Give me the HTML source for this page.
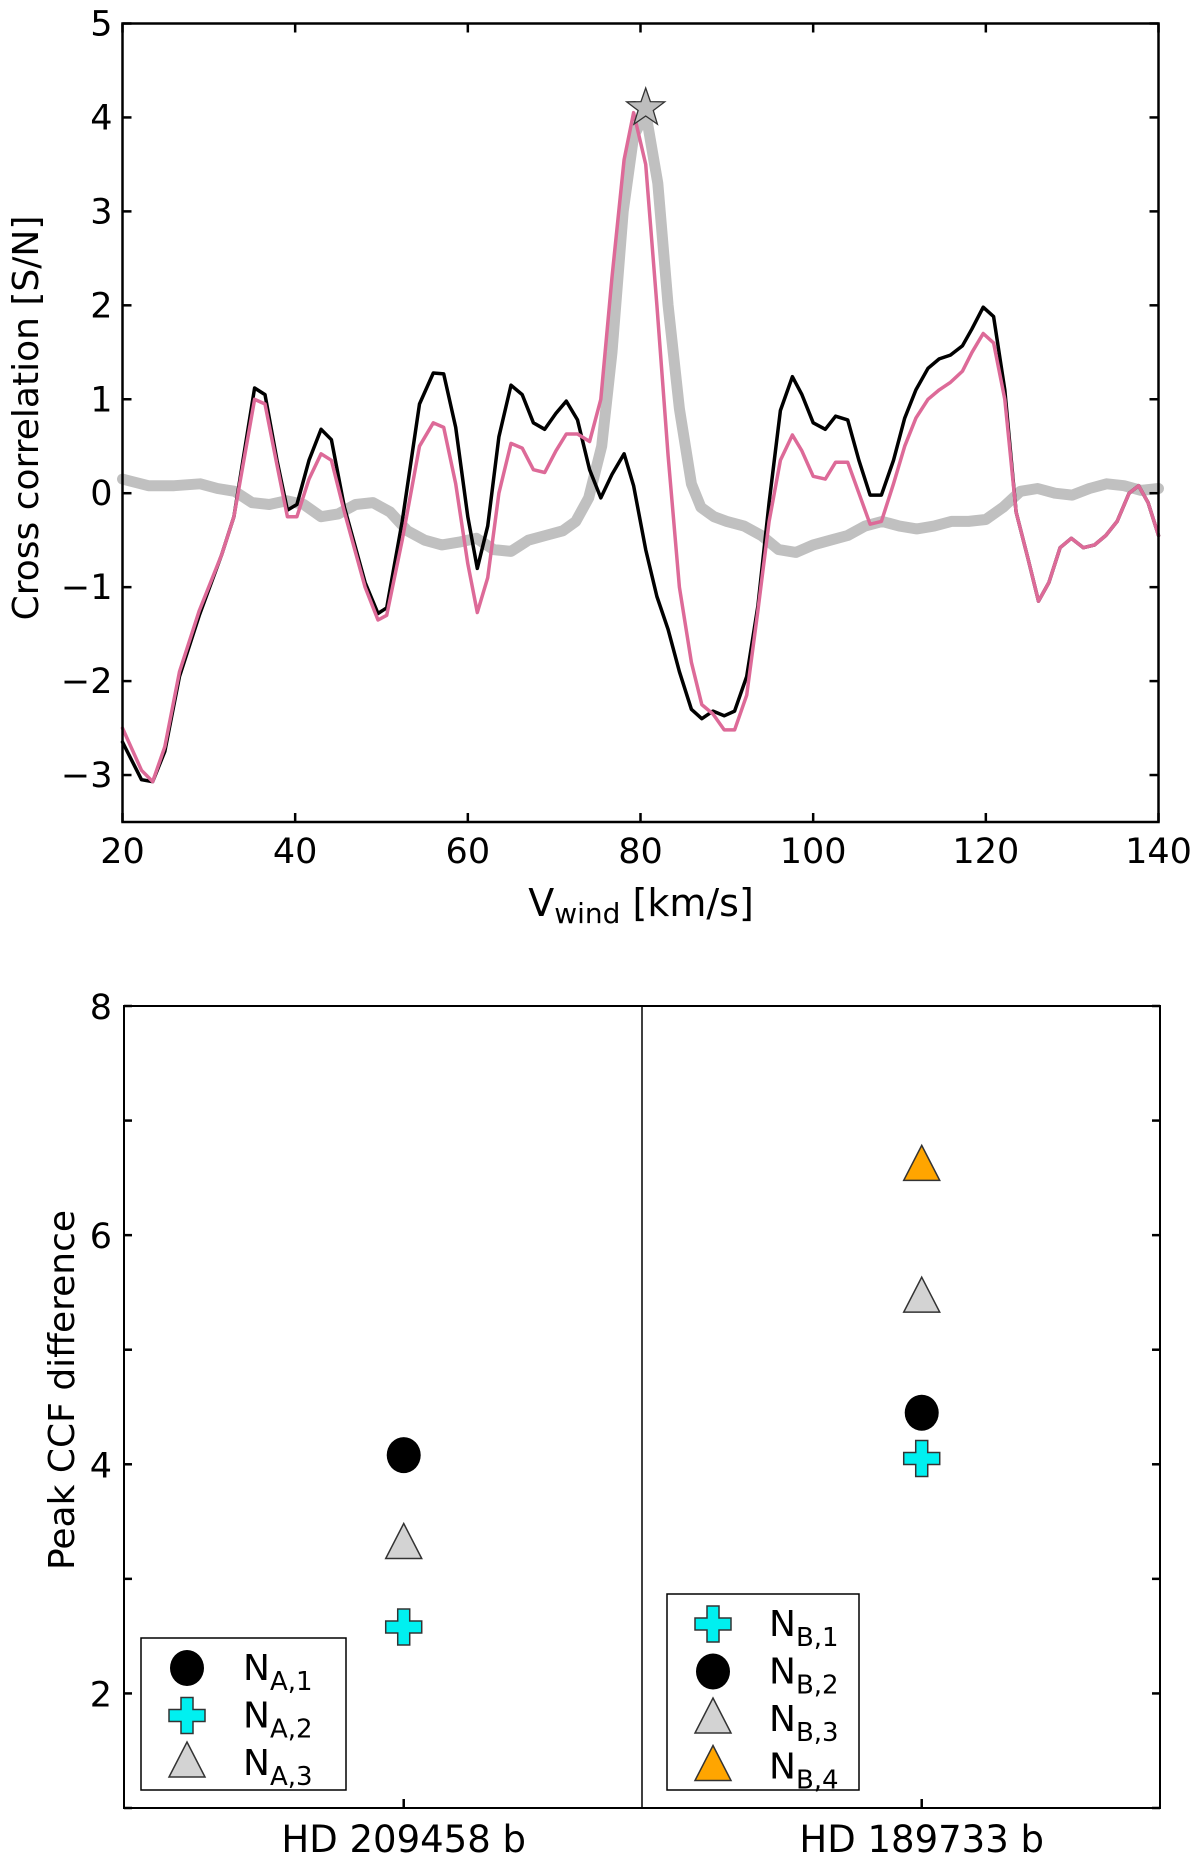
<!DOCTYPE html>
<html><head><meta charset="utf-8"><style>
body{margin:0;background:#fff;}
svg text{font-family:"DejaVu Sans","Liberation Sans",sans-serif;fill:#000;}
</style></head><body>
<svg id="fig" width="1200" height="1863" viewBox="0 0 1200 1863" xmlns="http://www.w3.org/2000/svg">
<g id="topPanel"></g>
<g id="botPanel"></g>
</svg>
<script>
// ---- Top panel data ----
const vx = [20,22.2,23.5,24.9,26.6,28.9,31.5,32.9,35.3,36.5,37.9,39.1,40.2,41.6,43,44.2,45.7,48.1,49.6,50.6,52.4,54.4,56,57.2,58.6,60,61.1,62.3,63.6,65,66.3,67.6,68.9,70.2,71.4,72.7,74.1,75.4,76.7,78.1,79.2,80.6,81.9,83.2,84.5,85.9,87.1,88.4,89.7,90.9,92.3,93.6,94.9,96.2,97.6,98.7,100,101.4,102.6,104,105.3,106.6,107.9,109.3,110.6,111.9,113.3,114.6,115.9,117.3,118.4,119.7,120.9,122.2,123.5,124.9,126.1,127.3,128.6,129.9,131.3,132.6,133.9,135.2,136.6,137.7,138.8,140];
const blackVals = [-2.65,-3.05,-3.07,-2.75,-1.95,-1.3,-0.65,-0.25,1.12,1.05,0.35,-0.18,-0.12,0.35,0.68,0.57,-0.15,-0.95,-1.28,-1.22,-0.3,0.95,1.28,1.27,0.7,-0.25,-0.8,-0.35,0.6,1.15,1.05,0.75,0.68,0.85,0.98,0.78,0.25,-0.05,0.2,0.42,0.08,-0.6,-1.1,-1.45,-1.9,-2.3,-2.4,-2.32,-2.37,-2.32,-1.95,-1.2,-0.1,0.88,1.24,1.05,0.75,0.68,0.82,0.78,0.35,-0.02,-0.02,0.35,0.8,1.1,1.33,1.43,1.47,1.57,1.75,1.98,1.88,1.1,-0.2,-0.7,-1.15,-0.95,-0.58,-0.48,-0.58,-0.55,-0.45,-0.3,0.0,0.08,-0.1,-0.45];
const pinkVals = [-2.5,-2.95,-3.07,-2.7,-1.9,-1.25,-0.65,-0.25,1.0,0.95,0.3,-0.25,-0.25,0.15,0.42,0.35,-0.2,-1.0,-1.35,-1.3,-0.5,0.5,0.75,0.7,0.1,-0.75,-1.27,-0.9,0.0,0.53,0.48,0.25,0.22,0.45,0.63,0.63,0.55,1.0,2.3,3.55,4.05,3.5,2.0,0.4,-1.0,-1.8,-2.25,-2.35,-2.52,-2.52,-2.15,-1.25,-0.3,0.35,0.62,0.45,0.18,0.15,0.33,0.33,0.0,-0.33,-0.3,0.1,0.5,0.8,1.0,1.1,1.18,1.3,1.5,1.7,1.6,1.0,-0.2,-0.7,-1.15,-0.95,-0.58,-0.48,-0.58,-0.55,-0.45,-0.3,0.0,0.08,-0.1,-0.45];
const grayX = [20,23,26,29,31,33,35,37,39,41,43,45,47,49,51,53,55,57,59,61,63,65,67,69,71,72.5,74,75.5,76.7,78,79.2,80.6,82,83.2,84.5,85.9,87,88.5,90,92,94,96,98,100,102,104,106,108,110,112,114,116,118,120,122,124,126,128,130,132,134,136,138,140];
const grayVals = [0.15,0.08,0.08,0.1,0.05,0.02,-0.1,-0.12,-0.08,-0.12,-0.25,-0.22,-0.12,-0.1,-0.2,-0.4,-0.5,-0.55,-0.52,-0.48,-0.6,-0.62,-0.5,-0.45,-0.4,-0.3,-0.05,0.5,1.5,3.0,3.8,4.05,3.3,2.0,0.9,0.1,-0.15,-0.25,-0.3,-0.35,-0.45,-0.6,-0.63,-0.55,-0.5,-0.45,-0.35,-0.3,-0.35,-0.38,-0.35,-0.3,-0.3,-0.28,-0.15,0.02,0.05,0.0,-0.02,0.05,0.1,0.08,0.03,0.05];
const starPoint = [80.6, 4.1];
const topXTicks = [20,40,60,80,100,120,140];
const topYTicks = [-3,-2,-1,0,1,2,3,4,5];
// ---- Bottom panel data ----
const categories = ["HD 209458 b","HD 189733 b"];
const seriesA = [4.08, 2.58, 3.3];
const seriesB = [4.05, 4.45, 5.45, 6.6];
const botYTicks = [2,4,6,8];

const NS="http://www.w3.org/2000/svg";
function mk(tag,attrs,parent){const e=document.createElementNS(NS,tag);for(const k in attrs)e.setAttribute(k,attrs[k]);parent.appendChild(e);return e;}
function sub(textEl,main,subTxt,subSize,dy,rest){
  textEl.appendChild(document.createTextNode(main));
  const s=document.createElementNS(NS,'tspan');s.setAttribute('font-size',subSize);s.setAttribute('dy',dy);s.textContent=subTxt;textEl.appendChild(s);
  if(rest){const r=document.createElementNS(NS,'tspan');r.setAttribute('dy',-dy);r.textContent=rest;textEl.appendChild(r);}
}

// Top axes
const T={l:122.5,r:1158.5,t:23.5,b:822};
const tx=v=>T.l+(v-20)/120*(T.r-T.l);
const ty=v=>T.t+(5-v)/8.5*(T.b-T.t);
const topG=document.getElementById('topPanel');
function line(xs,ys,color,w,name){
  let d=xs.map((x,i)=>(i?'L':'M')+tx(x).toFixed(1)+','+ty(ys[i]).toFixed(1)).join('');
  const p=mk('path',{d:d,fill:'none',stroke:color,'stroke-width':w,'stroke-linejoin':'round','stroke-linecap':'round'},topG);
  
  
}
line(grayX,grayVals,'#c0c0c0',11,'model-ccf-line');
line(vx,blackVals,'#000',3.5,'ccf-black-line');
line(vx,pinkVals,'#dd6a98',3.5,'ccf-pink-line');
(function(){
  const cx=tx(starPoint[0]),cy=ty(starPoint[1]);let pts=[];
  for(let i=0;i<10;i++){const r=i%2?8:20;const a=-Math.PI/2+i*Math.PI/5;pts.push((cx+r*Math.cos(a)).toFixed(1)+','+(cy+r*Math.sin(a)).toFixed(1));}
  const s=mk('polygon',{points:pts.join(' '),fill:'#bdbdbd',stroke:'#333','stroke-width':1.3},topG);
  
  
})();
const tf=mk('rect',{x:T.l,y:T.t,width:T.r-T.l,height:T.b-T.t,fill:'none',stroke:'#000','stroke-width':2.5},topG);


topXTicks.forEach(v=>{
  mk('line',{x1:tx(v),x2:tx(v),y1:T.b,y2:T.b-9,stroke:'#000','stroke-width':2.5},topG);
  mk('line',{x1:tx(v),x2:tx(v),y1:T.t,y2:T.t+9,stroke:'#000','stroke-width':2.5},topG);
  const t=mk('text',{x:tx(v),y:T.b+41,'text-anchor':'middle','font-size':35},topG);t.textContent=v;
  
  
});
topYTicks.forEach(v=>{
  mk('line',{x1:T.l,x2:T.l+9,y1:ty(v),y2:ty(v),stroke:'#000','stroke-width':2.5},topG);
  mk('line',{x1:T.r,x2:T.r-9,y1:ty(v),y2:ty(v),stroke:'#000','stroke-width':2.5},topG);
  const t=mk('text',{x:T.l-10,y:ty(v)+12,'text-anchor':'end','font-size':35},topG);t.textContent=(v<0?'\u2212'+(-v):v);
  
  
});
{
 const yl=mk('text',{x:0,y:0,'text-anchor':'middle','font-size':36,transform:'translate(38,418) rotate(-90)'},topG);yl.textContent='Cross correlation [S/N]';
 
 
 const xl=mk('text',{x:641,y:916,'text-anchor':'middle','font-size':38},topG);
 sub(xl,'V','wind',28,7,' [km/s]');
 
 
}

// Bottom axes
const B={l:124,r:1160,t:1006,b:1808};
const bx=v=>B.l+(v+0.54)/2*(B.r-B.l);
const by=v=>B.t+(8-v)/7*(B.b-B.t);
const botG=document.getElementById('botPanel');
const bf=mk('rect',{x:B.l,y:B.t,width:B.r-B.l,height:B.b-B.t,fill:'none',stroke:'#000','stroke-width':2},botG);


const dv=mk('line',{x1:bx(0.46),x2:bx(0.46),y1:B.t,y2:B.b,stroke:'#000','stroke-width':1.5},botG);


for(let v=1;v<=8;v++){
  mk('line',{x1:B.l,x2:B.l+8,y1:by(v),y2:by(v),stroke:'#000','stroke-width':2.5},botG);
  mk('line',{x1:B.r,x2:B.r-8,y1:by(v),y2:by(v),stroke:'#000','stroke-width':2.5},botG);
}
botYTicks.forEach(v=>{
  const t=mk('text',{x:B.l-12,y:by(v)+13,'text-anchor':'end','font-size':35},botG);t.textContent=v;
  
  
});
categories.forEach((c,i)=>{
  mk('line',{x1:bx(i),x2:bx(i),y1:B.b,y2:B.b-9,stroke:'#000','stroke-width':2.5},botG);
  const t=mk('text',{x:bx(i),y:B.b+44,'text-anchor':'middle','font-size':37},botG);t.textContent=c;
  
  
});
{
 const yl=mk('text',{x:0,y:0,'text-anchor':'middle','font-size':36,transform:'translate(74,1390) rotate(-90)'},botG);yl.textContent='Peak CCF difference';
 
 
}
function marker(kind,cx,cy,parent){
  let e;
  if(kind==='circle') e=mk('ellipse',{cx:cx,cy:cy,rx:17,ry:18,fill:'#000'},parent);
  else if(kind==='cross'){
    const a=6,b=18;
    const p=[[-a,-b],[a,-b],[a,-a],[b,-a],[b,a],[a,a],[a,b],[-a,b],[-a,a],[-b,a],[-b,-a],[-a,-a]].map(q=>(cx+q[0])+','+(cy+q[1])).join(' ');
    e=mk('polygon',{points:p,fill:'#00f0f0',stroke:'#333','stroke-width':1.5},parent);
  } else {
    const col=kind==='tri-orange'?'#ffa500':'#d3d3d3';
    e=mk('polygon',{points:`${cx},${cy-21} ${cx+18},${cy+14} ${cx-18},${cy+14}`,fill:col,stroke:'#333','stroke-width':1.5},parent);
  }
  return e;
}
const kindsA=['circle','cross','tri-gray'];
const kindsB=['cross','circle','tri-gray','tri-orange'];
seriesA.forEach((v,i)=>{const m=marker(kindsA[i],bx(0),by(v),botG);
  
  });
seriesB.forEach((v,i)=>{const m=marker(kindsB[i],bx(1),by(v),botG);
  
  });
function legend(x,y,w,h,kinds,letter,name){
  const g=mk('g',{},botG);
  
  
  mk('rect',{x:x,y:y,width:w,height:h,fill:'#fff',stroke:'#000','stroke-width':1.5},g);
  kinds.forEach((k,i)=>{
    const cy=y+30+i*47.5;
    marker(k,x+46,cy,g);
    const t=mk('text',{x:x+102,y:cy+12,'font-size':36},g);
    sub(t,'N',letter+','+(i+1),26,10,null);
    
    
  });
}
legend(141,1638,205,152,kindsA,'A','legend-a');
legend(667,1594,192,196,kindsB,'B','legend-b');
</script>
</body></html>
